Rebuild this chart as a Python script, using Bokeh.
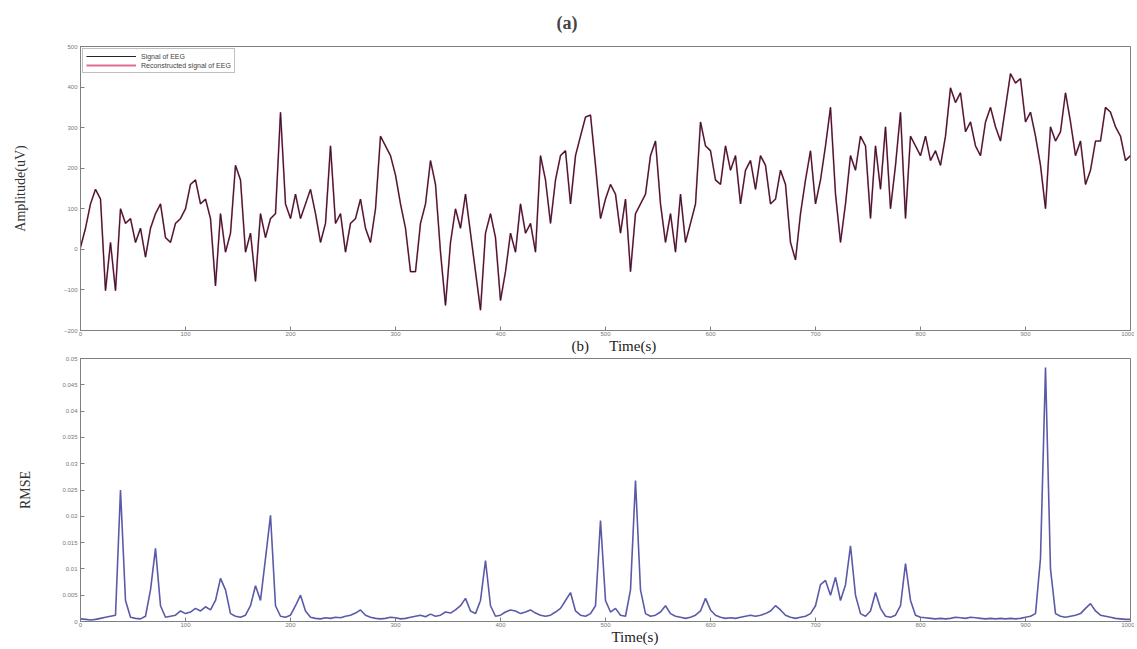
import numpy as np
from bokeh.plotting import figure
from bokeh.layouts import column
from bokeh.models import FixedTicker, Range1d, Legend, LegendItem, LinearAxis, Title
from bokeh.embed import file_html
from bokeh.resources import INLINE

# ---------------- data ----------------
amplitude = [
    5, 52, 112, 148, 124, -102, 17, -102, 100, 64,
    76, 17, 52, -19, 52, 88, 112, 29, 17, 64,
    76, 100, 160, 171, 112, 124, 76, -90, 88, -7,
    40, 207, 171, -7, 40, -79, 88, 29, 76, 88,
    338, 112, 76, 136, 76, 112, 148, 88, 17, 64,
    255, 64, 88, -7, 64, 76, 124, 52, 17, 100,
    279, 255, 231, 183, 112, 52, -55, -55, 64, 112,
    219, 160, -7, -138, 17, 100, 52, 136, 40, -55,
    -150, 40, 88, 29, -126, -55, 40, -7, 112, 40,
    64, -7, 231, 171, 64, 171, 231, 243, 112, 231,
    279, 326, 331, 207, 76, 124, 160, 136, 40, 124,
    -55, 88, 112, 136, 231, 267, 112, 17, 88, -7,
    136, 17, 64, 112, 314, 255, 243, 171, 160, 255,
    195, 231, 112, 195, 219, 148, 231, 207, 112, 124,
    195, 160, 17, -26, 88, 171, 243, 112, 171, 255,
    350, 136, 17, 112, 231, 195, 279, 255, 76, 255,
    148, 302, 100, 207, 338, 76, 279, 255, 231, 279,
    219, 243, 207, 279, 398, 362, 386, 290, 314, 255,
    231, 314, 350, 302, 267, 350, 433, 410, 421, 314,
    338, 279, 207, 100, 302, 267, 290, 386, 314, 231,
    267, 160, 195, 267, 267, 350, 338, 302, 279, 219,
    231,
]
reconstructed = list(amplitude)  # overlaps the original almost everywhere

rmse = [
    0.0005, 0.0004, 0.0003, 0.0004, 0.0006, 0.0008, 0.0010, 0.0012, 0.0250, 0.0040,
    0.0008, 0.0006, 0.0005, 0.0010, 0.0060, 0.0139, 0.0030, 0.0008, 0.0010, 0.0012,
    0.0020, 0.0015, 0.0018, 0.0025, 0.0020, 0.0028, 0.0022, 0.0040, 0.0082, 0.0060,
    0.0015, 0.0010, 0.0008, 0.0012, 0.0030, 0.0068, 0.0040, 0.0120, 0.0202, 0.0030,
    0.0010, 0.0008, 0.0012, 0.0030, 0.0050, 0.0020, 0.0008, 0.0006, 0.0005, 0.0007,
    0.0006, 0.0008, 0.0007, 0.0010, 0.0012, 0.0016, 0.0022, 0.0012, 0.0008, 0.0006,
    0.0005, 0.0006, 0.0008, 0.0007, 0.0005, 0.0006, 0.0008, 0.0010, 0.0012, 0.0009,
    0.0014, 0.0010, 0.0012, 0.0018, 0.0016, 0.0022, 0.0030, 0.0044, 0.0020, 0.0015,
    0.0040, 0.0116, 0.0030, 0.0010, 0.0012, 0.0018, 0.0022, 0.0020, 0.0015, 0.0018,
    0.0022, 0.0016, 0.0012, 0.0010, 0.0012, 0.0018, 0.0025, 0.0040, 0.0055, 0.0020,
    0.0012, 0.0010, 0.0015, 0.0030, 0.0192, 0.0040, 0.0018, 0.0025, 0.0012, 0.0010,
    0.0060, 0.0268, 0.0060, 0.0015, 0.0010, 0.0012, 0.0018, 0.0030, 0.0015, 0.0010,
    0.0008, 0.0006, 0.0008, 0.0012, 0.0020, 0.0044, 0.0022, 0.0012, 0.0008, 0.0006,
    0.0007, 0.0006, 0.0008, 0.0010, 0.0012, 0.0010, 0.0012, 0.0015, 0.0020, 0.0030,
    0.0022, 0.0012, 0.0008, 0.0006, 0.0008, 0.0010, 0.0015, 0.0030, 0.0070, 0.0078,
    0.0050, 0.0084, 0.0040, 0.0070, 0.0144, 0.0050, 0.0015, 0.0010, 0.0020, 0.0055,
    0.0025, 0.0010, 0.0008, 0.0012, 0.0030, 0.0110, 0.0040, 0.0012, 0.0008, 0.0007,
    0.0006, 0.0005, 0.0006, 0.0005, 0.0006, 0.0008, 0.0007, 0.0006, 0.0008, 0.0007,
    0.0006, 0.0005, 0.0006, 0.0005, 0.0006, 0.0005, 0.0006, 0.0005, 0.0006, 0.0008,
    0.0010, 0.0015, 0.0120, 0.0483, 0.0100, 0.0015, 0.0010, 0.0008, 0.0010, 0.0012,
    0.0015, 0.0025, 0.0034, 0.0020, 0.0012, 0.0010, 0.0008, 0.0006, 0.0005, 0.0004,
    0.0004,
]

x_ticks = [0, 100, 200, 300, 400, 500, 600, 700, 800, 900, 1000]
y_ticks_a = [-200, -100, 0, 100, 200, 300, 400, 500]
y_ticks_b = [0, 0.005, 0.01, 0.015, 0.02, 0.025, 0.03, 0.035, 0.04, 0.045, 0.05]
legend_labels = ["Signal of EEG", "Reconstructed signal of EEG"]

time_a = np.linspace(0, 1000, len(amplitude))
time_b = np.linspace(0, 1000, len(rmse))

SERIF = "Liberation Serif"
GREY = "#808080"


def style(p, yticks, ylabel, standoff):
    p.xgrid.visible = False
    p.ygrid.visible = False
    p.outline_line_color = GREY
    p.xaxis.ticker = FixedTicker(ticks=x_ticks)
    p.yaxis.ticker = FixedTicker(ticks=yticks)
    for ax in (p.xaxis[0], p.yaxis[0]):
        ax.axis_line_color = GREY
        ax.major_tick_line_color = GREY
        ax.minor_tick_line_color = None
        ax.major_tick_in = 4
        ax.major_tick_out = 0
        ax.major_label_text_font_size = "6px"
        ax.major_label_text_color = "#777777"
    p.xaxis.major_label_standoff = 1
    p.yaxis.major_label_standoff = 3
    p.yaxis.axis_label = ylabel
    p.yaxis.axis_label_text_font = SERIF
    p.yaxis.axis_label_text_font_style = "normal"
    p.yaxis.axis_label_text_font_size = "14px"
    p.yaxis.axis_label_text_color = "#333333"
    p.yaxis.axis_label_standoff = standoff


def caption_axis(positions, texts):
    ax = LinearAxis(ticker=FixedTicker(ticks=positions),
                    major_label_overrides=dict(zip(positions, texts)))
    ax.axis_line_color = None
    ax.major_tick_line_color = None
    ax.minor_tick_line_color = None
    ax.major_label_standoff = -7
    ax.major_label_text_font = SERIF
    ax.major_label_text_font_size = "15px"
    ax.major_label_text_color = "#222222"
    return ax


# ---------------- panel (a) ----------------
p1 = figure(width=1134, height=356, x_range=Range1d(0, 1000), y_range=Range1d(-200, 500),
            output_backend="svg", toolbar_location=None,
            min_border_left=80, min_border_right=4, min_border_top=45, min_border_bottom=26)
style(p1, y_ticks_a, "Amplitude(uV)", 33)

r_rec = p1.line(time_a, reconstructed, line_color="#e06a96", line_width=1.8)
r_orig = p1.line(time_a, amplitude, line_color="#2b1d2b", line_width=1.1)
legend = Legend(items=[LegendItem(label=legend_labels[0], renderers=[r_orig]),
                       LegendItem(label=legend_labels[1], renderers=[r_rec])],
                location="top_left")
legend.label_text_font_size = "7px"
legend.label_height = 8
legend.glyph_height = 8
legend.glyph_width = 50
legend.spacing = 1
legend.padding = 3
legend.margin = 2
legend.border_line_color = GREY
p1.add_layout(legend)

title_a = Title(text="(a)", align="left", offset=476, text_font=SERIF,
                text_font_style="bold", text_font_size="18px", standoff=24,
                vertical_align="top")
p1.add_layout(title_a, "above")
p1.add_layout(caption_axis([476, 526], ["(b)", "Time(s)"]), "below")

# ---------------- panel (b) ----------------
p2 = figure(width=1134, height=291, x_range=Range1d(0, 1000), y_range=Range1d(0, 0.05),
            output_backend="svg", toolbar_location=None,
            min_border_left=80, min_border_right=4, min_border_top=2, min_border_bottom=26)
style(p2, y_ticks_b, "RMSE", 26)
p2.line(time_b, rmse, line_color="#5a5aa8", line_width=1.6)
p2.add_layout(caption_axis([528], ["Time(s)"]), "below")

layout = column(p1, p2, spacing=0)
open("out.html", "w").write(file_html(layout, INLINE))
